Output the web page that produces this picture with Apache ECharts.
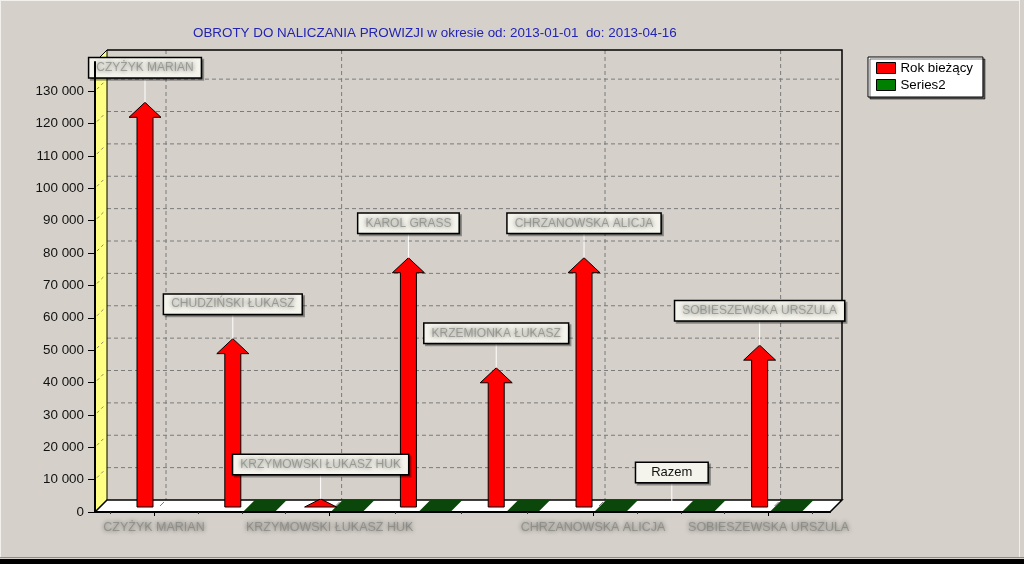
<!DOCTYPE html>
<html>
<head>
<meta charset="utf-8">
<title>Obroty do naliczania prowizji</title>
<script src="https://cdn.jsdelivr.net/npm/echarts@6/dist/echarts.min.js"></script>
<style>
  html, body { margin: 0; padding: 0; background: #d5d1ca; }
  #chart { width: 1024px; height: 564px; }
</style>
</head>
<body>
<div id="chart"></div>
<script>
// Sales people (the last-but-one entry is the total row)
const categories = [
  'CZYŻYK MARIAN',
  'CHUDZIŃSKI ŁUKASZ',
  'KRZYMOWSKI ŁUKASZ HUK',
  'KAROL GRASS',
  'KRZEMIONKA ŁUKASZ',
  'CHRZANOWSKA ALICJA',
  'Razem',
  'SOBIESZEWSKA URSZULA'
];
// Current-year turnover
const rokBiezacy = [125000, 52000, 2500, 77000, 43000, 77000, 0, 50000];
// Second series (empty slabs, first entry missing)
const series2 = [null, 0, 0, 0, 0, 0, 0, 0];
// Categories that get an axis label / major tick
const labeledCategories = [0, 2, 5, 7];
// Minor ticks along the category axis
const minorCategoryTicks = [-0.5, 0.5, 1, 1.5, 2.75, 3.5, 4.25, 5.5, 6, 6.5, 7.5];
// Value axis ticks
const yTickValues = [0, 10000, 20000, 30000, 40000, 50000, 60000, 70000, 80000, 90000, 100000, 110000, 120000, 130000];

const TOTAL_NAME = 'Razem';
const X_MIN = -0.672, X_MAX = 7.699;
const Y_MAX = 139000;
const DEPTH = 12;          // 3D wall depth in px
const ARROW_DEPTH = 5;     // arrows sit slightly behind the front plane
const FONT = '"Liberation Sans", Arial, sans-serif';

// Names are shown smudged (anonymised) on screen
const SMUDGE = {
  color: 'rgba(125,125,120,0.62)',
  textShadowColor: 'rgba(20,20,20,1)',
  textShadowBlur: 4
};

const fmtThousands = v => String(v).replace(/\B(?=(\d{3})+(?!\d))/g, ' ');

const chart = echarts.init(document.getElementById('chart'), null, { renderer: 'canvas' });

// Walls, floor and back-wall grid of the pseudo-3D frame
function renderFrame(params, api) {
  const x0 = api.coord([X_MIN, 0])[0];
  const x1 = api.coord([X_MAX, 0])[0];
  const y0 = api.coord([0, 0])[1];
  const yTop = api.coord([0, Y_MAX])[1];
  const D = DEPTH;
  const children = [];
  const gridStyle = { stroke: '#7b7b7b', lineWidth: 1, lineDash: [4, 3] };

  yTickValues.forEach(v => {
    if (v <= 0) return;
    const y = api.coord([0, v])[1];
    children.push({ type: 'line', shape: { x1: x0 + D, y1: y - D, x2: x1 + D, y2: y - D }, style: gridStyle });
  });
  labeledCategories.forEach(i => {
    const x = api.coord([i, 0])[0];
    children.push({ type: 'line', shape: { x1: x + D, y1: yTop - D, x2: x + D, y2: y0 - D }, style: gridStyle });
  });
  // back wall outline
  children.push({
    type: 'polyline',
    shape: { points: [[x0 + D, yTop - D], [x1 + D, yTop - D], [x1 + D, y0 - D]] },
    style: { stroke: '#000', lineWidth: 1.5, fill: null }
  });
  // left wall
  children.push({
    type: 'polygon',
    shape: { points: [[x0, y0], [x0, yTop], [x0 + D, yTop - D], [x0 + D, y0 - D]] },
    style: { fill: '#ffff84', stroke: '#000', lineWidth: 1 }
  });
  yTickValues.forEach(v => {
    if (v <= 0) return;
    const y = api.coord([0, v])[1];
    children.push({ type: 'line', shape: { x1: x0 + 2, y1: y - 2, x2: x0 + D - 2, y2: y - D + 2 }, style: { stroke: '#8c8c5a', lineWidth: 1, lineDash: [3, 3] } });
  });
  // floor
  children.push({
    type: 'polygon',
    shape: { points: [[x0, y0], [x0 + D, y0 - D], [x1 + D, y0 - D], [x1, y0]] },
    style: { fill: '#ffffff', stroke: '#000', lineWidth: 1.5 }
  });
  labeledCategories.forEach(i => {
    const x = api.coord([i, 0])[0];
    children.push({ type: 'line', shape: { x1: x + D - 2, y1: y0 - D + 2, x2: x + 6, y2: y0 - 6 }, style: { stroke: '#7b7b7b', lineWidth: 1 } });
  });
  return { type: 'group', children };
}

// Flat 3D slabs of the second series
function renderSlab(params, api) {
  const i = api.value(0), v = api.value(1);
  if (isNaN(v)) return null;
  const band = api.size([1, 0])[0];
  const c = api.coord([i, 0]);
  const xl = c[0] + 0.012 * band, xr = c[0] + 0.376 * band;
  const yb = c[1], yt = api.coord([i, v])[1];
  const D = DEPTH;
  return {
    type: 'group',
    children: [
      { type: 'rect', shape: { x: xl, y: yt, width: xr - xl, height: yb - yt }, style: { fill: '#008000' } },
      { type: 'polygon', shape: { points: [[xl, yt], [xr, yt], [xr + D, yt - D], [xl + D, yt - D]] }, style: { fill: '#0b470b' } }
    ]
  };
}

function arrowGeometry(api) {
  const i = api.value(0), v = api.value(1);
  const band = api.size([1, 0])[0];
  const cx = api.coord([i, 0])[0] - 0.1025 * band;
  const base = api.coord([i, 0])[1] - ARROW_DEPTH;
  const tip = api.coord([i, v])[1] - ARROW_DEPTH;
  return { i, v, cx, base, tip };
}

// Red arrows of the current-year series
function renderArrow(params, api) {
  const g = arrowGeometry(api);
  if (!(g.v > 0)) return null;
  const hw = 8, hh = 16, headH = 15;
  let pts;
  if (g.base - g.tip > headH) {
    const hb = g.tip + headH;
    pts = [[g.cx - hw, g.base], [g.cx - hw, hb], [g.cx - hh, hb], [g.cx, g.tip], [g.cx + hh, hb], [g.cx + hw, hb], [g.cx + hw, g.base]];
  } else {
    pts = [[g.cx - hh, g.base], [g.cx, g.tip], [g.cx + hh, g.base]];
  }
  return {
    type: 'polygon',
    shape: { points: pts },
    style: { fill: '#ff0000', stroke: '#000', lineWidth: 1 }
  };
}

// Name boxes above each arrow
function renderMark(params, api) {
  const g = arrowGeometry(api);
  const name = categories[g.i];
  const boxBottom = g.tip - 25;
  const isTotal = name === TOTAL_NAME;
  const textStyle = isTotal
    ? { fill: '#111', fontSize: 13, padding: [3, 15, 3, 15] }
    : { fill: SMUDGE.color, textShadowColor: SMUDGE.textShadowColor, textShadowBlur: SMUDGE.textShadowBlur, fontSize: 12, padding: [3, 7, 3, 7] };
  return {
    type: 'group',
    children: [
      { type: 'line', shape: { x1: g.cx, y1: boxBottom, x2: g.cx, y2: g.tip }, style: { stroke: '#ffffff', lineWidth: 1 } },
      {
        type: 'text',
        x: g.cx,
        y: boxBottom - 9.5,
        style: Object.assign({
          text: name,
          align: 'center',
          verticalAlign: 'middle',
          fontFamily: FONT,
          lineHeight: 13,
          backgroundColor: '#f4f4ec',
          borderColor: '#000',
          borderWidth: 1.5,
          shadowColor: 'rgba(0,0,0,0.35)',
          shadowOffsetX: 2,
          shadowOffsetY: 2,
          shadowBlur: 0
        }, textStyle)
      }
    ]
  };
}

const option = {
  backgroundColor: '#d5d1ca',
  animation: false,
  title: {
    text: 'OBROTY DO NALICZANIA PROWIZJI w okresie od: 2013-01-01  do: 2013-04-16',
    left: 193,
    top: 27,
    padding: 0,
    textStyle: { fontSize: 13.4, fontWeight: 'normal', color: '#2323b4', fontFamily: FONT }
  },
  legend: {
    data: ['Rok bieżący', 'Series2'],
    orient: 'vertical',
    left: 868,
    top: 57,
    itemWidth: 19,
    itemHeight: 11,
    itemGap: 3,
    padding: [4, 10, 5, 8],
    backgroundColor: '#ffffff',
    borderColor: '#000',
    borderWidth: 1,
    shadowColor: 'rgba(0,0,0,0.55)',
    shadowOffsetX: 2,
    shadowOffsetY: 2,
    shadowBlur: 0,
    icon: 'rect',
    itemStyle: { borderColor: '#000', borderWidth: 1 },
    textStyle: { fontSize: 13.3, color: '#000', fontFamily: FONT, lineHeight: 14 },
    selectedMode: false
  },
  grid: { left: 95, right: 194, top: 62, bottom: 52, containLabel: false },
  xAxis: [
    {
      type: 'value',
      min: X_MIN,
      max: X_MAX,
      z: 10,
      axisLine: { show: true, onZero: false, lineStyle: { color: '#000', width: 2 } },
      axisTick: { show: true, customValues: labeledCategories, length: 4, lineStyle: { color: '#000' } },
      axisLabel: {
        customValues: labeledCategories,
        formatter: v => categories[Math.round(v)],
        margin: 9,
        fontSize: 12.5,
        fontFamily: FONT,
        color: SMUDGE.color,
        textShadowColor: SMUDGE.textShadowColor,
        textShadowBlur: SMUDGE.textShadowBlur
      },
      splitLine: { show: false }
    },
    {
      type: 'value',
      min: X_MIN,
      max: X_MAX,
      position: 'bottom',
      z: 10,
      axisLine: { show: false, onZero: false },
      axisTick: { show: true, customValues: minorCategoryTicks, length: 2, lineStyle: { color: '#333' } },
      axisLabel: { show: false },
      splitLine: { show: false }
    }
  ],
  yAxis: {
    type: 'value',
    min: 0,
    max: Y_MAX,
    z: 10,
    axisLine: { show: true, onZero: false, lineStyle: { color: '#000', width: 2 } },
    axisTick: { show: true, customValues: yTickValues, length: 7, lineStyle: { color: '#000' } },
    axisLabel: {
      customValues: yTickValues,
      formatter: v => fmtThousands(v),
      margin: 11,
      fontSize: 13.4,
      fontFamily: FONT,
      color: '#111'
    },
    splitLine: { show: false }
  },
  graphic: [
    { type: 'line', shape: { x1: 0, y1: 0.5, x2: 1020, y2: 0.5 }, style: { stroke: '#f2f0ec', lineWidth: 1 } },
    { type: 'line', shape: { x1: 0.5, y1: 0, x2: 0.5, y2: 558 }, style: { stroke: '#f2f0ec', lineWidth: 1 } },
    { type: 'line', shape: { x1: 1019.5, y1: 0, x2: 1019.5, y2: 558 }, style: { stroke: '#f2f0ec', lineWidth: 1 } },
    { type: 'line', shape: { x1: 0, y1: 557.5, x2: 1024, y2: 557.5 }, style: { stroke: '#8f8c86', lineWidth: 1 } },
    { type: 'rect', shape: { x: 0, y: 559, width: 1024, height: 5 }, style: { fill: '#000' } }
  ],
  series: [
    {
      name: 'frame',
      type: 'custom',
      xAxisIndex: 0,
      yAxisIndex: 0,
      z: 1,
      silent: true,
      renderItem: renderFrame,
      data: [[0, 0]]
    },
    {
      name: 'Series2',
      type: 'custom',
      xAxisIndex: 0,
      yAxisIndex: 0,
      z: 2,
      itemStyle: { color: '#008000' },
      renderItem: renderSlab,
      encode: { x: 0, y: 1 },
      data: series2.map((v, i) => [i, v === null ? '-' : v])
    },
    {
      name: 'Rok bieżący',
      type: 'custom',
      xAxisIndex: 0,
      yAxisIndex: 0,
      z: 3,
      itemStyle: { color: '#ff0000' },
      renderItem: renderArrow,
      encode: { x: 0, y: 1 },
      data: rokBiezacy.map((v, i) => [i, v])
    },
    {
      name: 'marks',
      type: 'custom',
      xAxisIndex: 0,
      yAxisIndex: 0,
      z: 4,
      silent: true,
      renderItem: renderMark,
      encode: { x: 0, y: 1 },
      data: rokBiezacy.map((v, i) => [i, v])
    }
  ]
};

chart.setOption(option);
</script>
</body>
</html>
